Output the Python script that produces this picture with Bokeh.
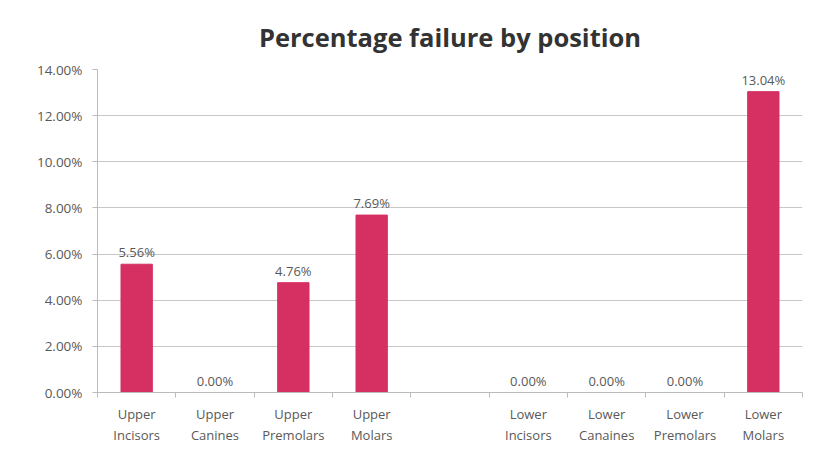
from bokeh.plotting import figure
from bokeh.models import FixedTicker, NumeralTickFormatter, ColumnDataSource, Range1d, LinearAxis
from bokeh.core.properties import value
from bokeh.embed import file_html
from bokeh.resources import INLINE

categories = ["Upper\nIncisors", "Upper\nCanines", "Upper\nPremolars", "Upper\nMolars", "",
              "Lower\nIncisors", "Lower\nCanaines", "Lower\nPremolars", "Lower\nMolars"]
values = [5.56, 0.00, 4.76, 7.69, None, 0.00, 0.00, 0.00, 13.04]
y_ticks = [0, 2, 4, 6, 8, 10, 12, 14]

FONT = "Open Sans"
BAR = "#D63062"

xs, tops, labels = [], [], []
for i, v in enumerate(values):
    if v is None:
        continue
    xs.append(i + 0.5)
    tops.append(v / 100.0)
    labels.append("%.2f%%" % v)
src = ColumnDataSource(dict(x=xs, top=tops, label=labels))

p = figure(width=805, height=447, output_backend="svg", toolbar_location=None,
           x_range=Range1d(0, len(categories)), y_range=Range1d(0, 0.14),
           min_border_left=97, min_border_right=3, min_border_top=69, min_border_bottom=55,
           x_axis_location=None)
p.outline_line_color = None
p.background_fill_color = "white"
p.border_fill_color = "white"

p.title.text = "Percentage failure by position"
p.title.align = "center"
p.title.text_font = FONT
p.title.text_font_size = "25.5px"
p.title.text_font_style = "bold"
p.title.text_color = "#333333"
p.title.standoff = 32

p.vbar(x="x", top="top", width=0.4, source=src, fill_color=BAR, line_color=BAR)
p.text(x="x", y="top", text="label", source=src, text_align="center", text_baseline="bottom",
       y_offset=-3, text_font=value(FONT), text_font_size="13px", text_color="#595959")

# x axis
xa = LinearAxis()
xa.ticker = FixedTicker(ticks=[i + 0.5 for i in range(len(categories))],
                        minor_ticks=list(range(len(categories) + 1)))
xa.major_label_overrides = {i + 0.5: c for i, c in enumerate(categories)}
xa.major_tick_line_color = None
xa.minor_tick_in = 0
xa.minor_tick_out = 5
xa.minor_tick_line_color = "#BBBBBB"
xa.axis_line_color = "#BBBBBB"
xa.major_label_text_font = FONT
xa.major_label_text_font_size = "13px"
xa.major_label_text_color = "#595959"
xa.major_label_standoff = 6
p.add_layout(xa, "below")

ya = p.yaxis[0]
ya.ticker = FixedTicker(ticks=[t / 100.0 for t in y_ticks])
ya.formatter = NumeralTickFormatter(format="0.00%")
ya.minor_tick_line_color = None
ya.major_tick_in = 0
ya.major_tick_out = 5
ya.major_tick_line_color = "#BBBBBB"
ya.axis_line_color = "#BBBBBB"
ya.major_label_text_font = FONT
ya.major_label_text_font_size = "13.5px"
ya.major_label_text_color = "#595959"
ya.major_label_standoff = 10

p.xgrid.grid_line_color = None
p.ygrid.grid_line_color = "#C8C8C8"
p.ygrid.ticker = FixedTicker(ticks=[t / 100.0 for t in y_ticks])

open("out.html", "w").write(file_html(p, INLINE))
